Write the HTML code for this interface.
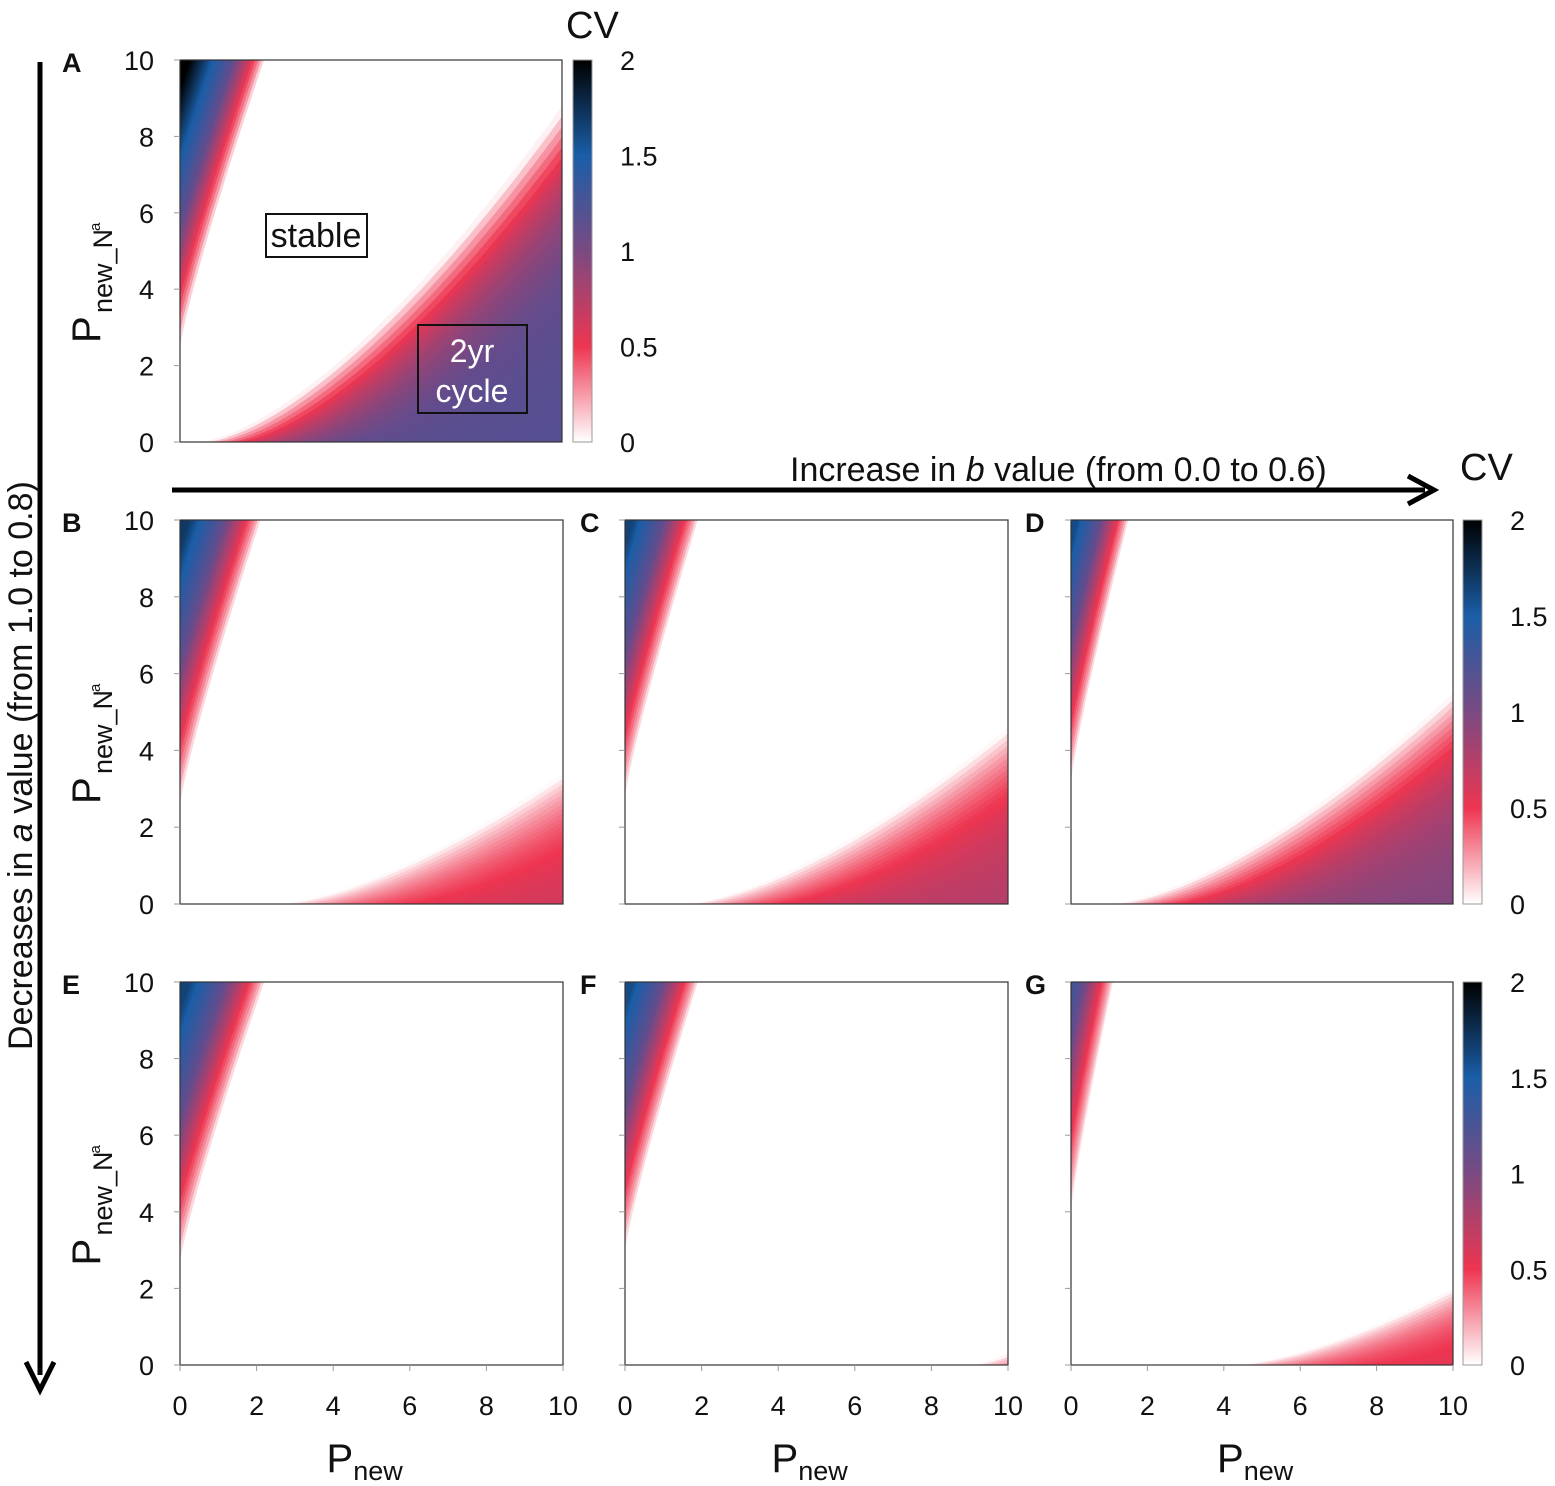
<!DOCTYPE html>
<html><head><meta charset="utf-8"><style>
body{margin:0;background:#fff}
svg{display:block;font-family:"Liberation Sans",sans-serif}
</style></head><body>
<svg id="s" width="1555" height="1486" xmlns="http://www.w3.org/2000/svg">
<defs>
<linearGradient id="cb" x1="0" y1="1" x2="0" y2="0">
<stop offset="0" stop-color="#ffffff"/>
<stop offset="0.25" stop-color="#ee3550"/>
<stop offset="0.5" stop-color="#7a4a82"/>
<stop offset="0.75" stop-color="#1a5ea8"/>
<stop offset="1" stop-color="#000000"/>
</linearGradient>
</defs>
</svg>
<script>
const S=document.getElementById('s');const NS='http://www.w3.org/2000/svg';
function el(t,a,txt,par){const e=document.createElementNS(NS,t);for(const k in a)e.setAttribute(k,a[k]);if(txt!==undefined)e.textContent=txt;(par||S).appendChild(e);return e;}
const stops=[[0,[255,255,255]],[0.25,[238,53,80]],[0.5,[100,76,140]],[0.75,[26,94,168]],[1,[0,0,0]]];
function cmap(cv){let t=Math.max(0,Math.min(1,cv/2));for(let i=0;i<stops.length-1;i++){const[a,ca]=stops[i],[b,cb]=stops[i+1];if(t<=b){const u=(t-a)/(b-a);return 'rgb('+ca.map((v,j)=>Math.round(v+(cb[j]-v)*u)).join(',')+')';}}return 'rgb(0,0,0)';}
let cid=0;
function panel(x0,y0,w,h,letter,lx,P,opt){
 const X=x=>x0+x*w/10,Y=y=>y0+h-y*h/10;
 cid++;const d=document.createElementNS(NS,'clipPath');d.setAttribute('id','c'+cid);const r=document.createElementNS(NS,'rect');r.setAttribute('x',x0);r.setAttribute('y',y0);r.setAttribute('width',w);r.setAttribute('height',h);d.appendChild(r);S.querySelector('defs').appendChild(d);
 const g=el('g',{'clip-path':'url(#c'+cid+')'});
 function poly(pts,fill){const p=document.createElementNS(NS,'polygon');p.setAttribute('points',pts.map(q=>X(q[0]).toFixed(1)+','+Y(q[1]).toFixed(1)).join(' '));p.setAttribute('fill',fill);g.appendChild(p);}
 const wt=P.wt,wb=P.wb,wp=1.15;
 const gx=y=>wt*Math.pow((y-wb)/(10-wb),wp);
 const N=30;
 for(let k=0;k<=N;k++){const s=k/N*wt;const pts=[[-1,wb-0.5]];for(let i=0;i<=40;i++){const y=wb+(10-wb)*i/40;pts.push([gx(y)-s,y]);}pts.push([gx(10)-s,10.5]);pts.push([-1,10.5]);
  const f=k/N;const cv=P.wc*Math.min(1,Math.pow(f,0.8)*1.05+0.06);poly(pts,cmap(cv));}
 if(P.ls!==null){const ls=P.ls,le=P.le,lp=1.5;const f=x=>x<=ls?0:le*Math.pow((x-ls)/(10-ls),lp);
  const M=40;for(let k=0;k<=M;k++){const s=k/M*8;const pts=[];for(let i=0;i<=60;i++){const x=ls+s+(10.5-ls-s)*i/60;pts.push([x,f(x-s)]);}pts.push([10.5,-1]);pts.push([ls+s,-1]);
   const cv=P.lc*(1-Math.exp(-(s+0.05)/P.lk));poly(pts,cmap(cv));}}
 el('rect',{x:x0,y:y0,width:w,height:h,fill:'none',stroke:'#333','stroke-width':1.2});
 for(let i=0;i<=5;i++){const yy=Y(i*2);el('line',{x1:x0-6,y1:yy,x2:x0,y2:yy,stroke:'#999'});
  if(opt.yl)el('text',{x:x0-26,y:yy+10,'font-size':27,'text-anchor':'end',fill:'#111'},String(i*2));}
 if(opt.xt){for(let i=0;i<=5;i++){const xx=X(i*2);el('line',{x1:xx,y1:y0+h,x2:xx,y2:y0+h+6,stroke:'#999'});el('text',{x:xx,y:y0+h+50,'font-size':27,'text-anchor':'middle',fill:'#111'},String(i*2));}
  const t=el('text',{x:x0+w/2-45,y:1472,'font-size':40,fill:'#111'},'P');el('tspan',{'font-size':27,dy:8},'new',t);}
 el('text',{x:lx,y:y0+12,'font-size':27,'font-weight':'bold',fill:'#111'},letter);
 if(opt.yl){const cy=y0+h/2;el('text',{transform:'translate('+(x0-80)+','+(cy+92)+') rotate(-90)','font-size':40,fill:'#111'},'P');
  el('text',{transform:'translate('+(x0-68)+','+(cy+62)+') rotate(-90)','font-size':27,fill:'#111'},'new_N');
  el('text',{transform:'translate('+(x0-80)+','+(cy-20)+') rotate(-90)','font-size':15,fill:'#111'},'a');}
}
function cbar(x,y0,h){el('rect',{x:x,y:y0,width:19,height:h,fill:'url(#cb)',stroke:'#999','stroke-width':1});
 [['2',0],['1.5',0.25],['1',0.5],['0.5',0.75],['0',1]].forEach(([t,f])=>el('text',{x:x+47,y:y0+f*h+10,'font-size':27,fill:'#111'},t));}
try{
panel(180,60,382,382,'A',62,{wt:2.2,wb:2.5,wc:2.0,ls:0.5,le:8.8,lc:1.1,lk:1.6},{yl:1});
panel(180,520,383,384,'B',62,{wt:2.1,wb:2.6,wc:1.7,ls:2.5,le:3.4,lc:0.62,lk:2.0},{yl:1});
panel(625,520,383,384,'C',580,{wt:1.9,wb:2.8,wc:1.65,ls:1.5,le:4.6,lc:0.72,lk:2.0},{});
panel(1071,520,382,384,'D',1025,{wt:1.5,wb:3.2,wc:1.6,ls:1.0,le:5.5,lc:0.9,lk:2.0},{});
panel(180,982,383,383,'E',62,{wt:2.2,wb:2.7,wc:1.65,ls:null},{yl:1,xt:1});
panel(625,982,383,383,'F',580,{wt:1.9,wb:3.0,wc:1.6,ls:9.0,le:0.3,lc:0.3,lk:0.5},{xt:1});
panel(1071,982,382,383,'G',1025,{wt:1.1,wb:4.0,wc:1.2,ls:4.2,le:2.0,lc:0.55,lk:1.5},{xt:1});
}catch(e){}
cbar(573,60,382);cbar(1463,520,384);cbar(1463,982,383);
el('text',{x:566,y:38,'font-size':38,fill:'#111'},'CV');
el('text',{x:1460,y:480,'font-size':38,fill:'#111'},'CV');
el('line',{x1:40,y1:62,x2:40,y2:1375,stroke:'#000','stroke-width':5});
el('polyline',{points:'26,1362 40,1390 54,1362',fill:'none',stroke:'#000','stroke-width':5});
el('line',{x1:172,y1:490,x2:1425,y2:490,stroke:'#000','stroke-width':5});
el('polyline',{points:'1408,476 1434,490 1408,504',fill:'none',stroke:'#000','stroke-width':5});
const ht=el('text',{x:790,y:481,'font-size':34,fill:'#111'},'Increase  in ');
el('tspan',{'font-style':'italic'},'b',ht);el('tspan',{},' value (from 0.0 to 0.6)',ht);
const vt=el('text',{transform:'translate(32,1050) rotate(-90)','font-size':34,fill:'#111'},'Decreases in ');
el('tspan',{'font-style':'italic'},'a',vt);el('tspan',{},' value  (from 1.0 to 0.8)',vt);
el('rect',{x:266,y:214,width:101,height:43,fill:'#fff',stroke:'#111','stroke-width':2});
el('text',{x:316,y:247,'font-size':34,'text-anchor':'middle',fill:'#111'},'stable');
el('rect',{x:418,y:325,width:109,height:88,fill:'none',stroke:'#111','stroke-width':2});
el('text',{x:472,y:362,'font-size':32,'text-anchor':'middle',fill:'#fff'},'2yr');
el('text',{x:472,y:402,'font-size':32,'text-anchor':'middle',fill:'#fff'},'cycle');
</script>
</body></html>
